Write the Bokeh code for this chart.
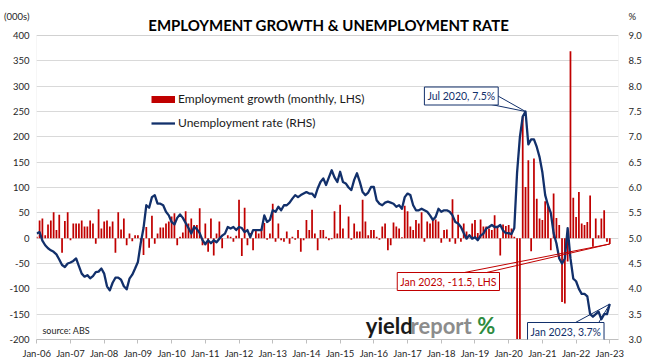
from bokeh.plotting import figure
from bokeh.models import (Range1d, LinearAxis, FixedTicker, Label, Legend,
                          LegendItem, ColumnDataSource, BoxAnnotation)
from bokeh.embed import file_html
from bokeh.resources import INLINE

# ---------------- data ----------------
month_names = ["Jan", "Feb", "Mar", "Apr", "May", "Jun",
               "Jul", "Aug", "Sep", "Oct", "Nov", "Dec"]
periods = [f"{m} {y}" for y in range(2006, 2024) for m in month_names][:205]

# monthly employment change, (000s), LHS
emp_growth = [
    3, 35, 39, 6, 27, 35, 51, 16, 46, -29, 34, 51,            # 2006
    -4, 29, 29, 29, 35, 23, 23, 35, 29, -11, 57, 19,          # 2007
    33, 35, 23, 33, -29, 51, 17, 39, -14, 9, -6, 6,           # 2008
    6, -4, -33, 22, -19, 44, -11, 9, 21, 21, 29, 33,          # 2009
    43, 49, -14, 3, 11, 53, 29, 39, 26, 26, 59, -14,          # 2010
    29, -27, 39, -34, 9, 33, -20, 0, 6, 3, -7, 5,             # 2011
    76, -35, 60, -14, 10, -24, 16, 9, 19, 30, -3, 9,          # 2012
    68, -7, 29, -4, -7, 13, -11, 3, -3, 16, -27, -4,          # 2013
    36, 16, 56, 9, -24, 16, 16, 3, -4, -2, 53, 9,             # 2014
    66, 19, 0, 43, -3, 29, 13, 13, 76, 33, 6, 16,             # 2015
    16, 3, -3, 23, 29, -24, -14, 31, 23, 19, 2, 64,           # 2016
    53, 23, 16, 36, 29, 51, -7, 33, 29, 39, 37, 33,           # 2017
    -9, 16, 17, -7, 77, -11, 46, -7, 29, 13, 1, 29,           # 2018
    36, 10, 37, 23, 23, 19, 16, 45, 22, -34, 27, 24,          # 2019
    26, 19, 3, -600, -230, 240, 101, 154, -26, 157, 78, 39,   # 2020
    36, 73, 68, -24, 88, 40, 26, -126, -129, -46, 369, 80,    # 2021
    42, 91, 29, 26, 32, 84, -17, 39, 6, 39, 55, -7,           # 2022
    -11.5,                                                    # 2023
]

# unemployment rate, %, RHS
unemp_rate = [
    5.09, 5.12, 4.95, 4.86, 4.80, 4.76, 4.73, 4.68, 4.58, 4.47, 4.43, 4.50,
    4.52, 4.55, 4.60, 4.45, 4.30, 4.24, 4.27, 4.21, 4.25, 4.33, 4.34, 4.40,
    4.30, 4.05, 3.97, 4.12, 4.22, 4.22, 4.18, 4.05, 3.99, 4.20, 4.28, 4.40,
    4.53, 4.90, 5.20, 5.65, 5.60, 5.81, 5.85, 5.68, 5.68, 5.65, 5.52, 5.45,
    5.32, 5.27, 5.40, 5.47, 5.40, 5.30, 5.20, 5.09, 5.22, 5.18, 5.10, 4.96,
    4.88, 4.96, 4.90, 4.96, 4.92, 4.99, 5.05, 5.09, 5.22, 5.19, 5.22, 5.16,
    5.22, 5.20, 5.12, 5.16, 5.02, 5.16, 5.16, 5.16, 5.16, 5.45, 5.32, 5.36,
    5.55, 5.52, 5.62, 5.55, 5.65, 5.65, 5.70, 5.78, 5.85, 5.81, 5.85, 5.88,
    5.91, 5.88, 5.88, 5.81, 5.98, 6.11, 6.18, 6.05, 6.20, 6.34, 6.20, 6.11,
    6.31, 6.11, 6.08, 6.00, 5.95, 6.15, 6.28, 6.11, 5.91, 5.85, 5.90, 6.01,
    6.01, 5.75, 5.68, 5.65, 5.70, 5.72, 5.70, 5.68, 5.62, 5.65, 5.58, 5.81,
    5.88, 5.85, 5.65, 5.55, 5.55, 5.58, 5.55, 5.52, 5.45, 5.36, 5.42, 5.58,
    5.52, 5.55, 5.55, 5.52, 5.45, 5.32, 5.29, 5.22, 5.10, 4.99, 5.06, 4.99,
    5.02, 4.96, 5.05, 5.09, 5.19, 5.22, 5.26, 5.22, 5.22, 5.26, 5.15, 5.10,
    5.10, 5.08, 5.20, 6.30, 7.00, 7.40, 7.50, 6.85, 6.95, 6.95, 6.80, 6.60,
    6.30, 5.85, 5.65, 5.50, 5.10, 4.90, 4.60, 4.50, 4.60, 5.20, 4.60, 4.20,
    4.15, 4.00, 3.90, 3.90, 3.85, 3.50, 3.45, 3.50, 3.55, 3.40, 3.50, 3.50,
    3.70,
]

left_ticks = [400, 350, 300, 250, 200, 150, 100, 50, 0, -50, -100, -150, -200]
left_tick_labels = ["400", "350", "300", "250", "200", "150", "100", "50",
                    "0", "-50", "-100", "-150", "-200"]
right_ticks = [9.0, 8.5, 8.0, 7.5, 7.0, 6.5, 6.0, 5.5, 5.0, 4.5, 4.0, 3.5, 3.0]
right_tick_labels = ["9.0", "8.5", "8.0", "7.5", "7.0", "6.5", "6.0", "5.5",
                     "5.0", "4.5", "4.0", "3.5", "3.0"]
x_tick_labels = ["Jan-06", "Jan-07", "Jan-08", "Jan-09", "Jan-10", "Jan-11",
                 "Jan-12", "Jan-13", "Jan-14", "Jan-15", "Jan-16", "Jan-17",
                 "Jan-18", "Jan-19", "Jan-20", "Jan-21", "Jan-22", "Jan-23"]
left_unit_label = "(000s)"
right_unit_label = "%"

# ---------------- styling ----------------
RED = "#C00000"
NAVY = "#12306B"
GRID = "#D9D9D9"
BORDER = "#BFBFBF"
TXT = "#262626"
FONT = "Lato"

W, H = 662, 363
FL, FR, FT, FB = 33, 618, 5, 339          # plot frame in page pixels
X0, X1 = -0.1, 207.1                      # months
PLOT_BOTTOM, PLOT_TOP = -200, 400         # visible value-axis box
PX_PER_UNIT = 304 / 600
Y0 = PLOT_BOTTOM
Y1 = PLOT_BOTTOM + (FB - FT) / PX_PER_UNIT  # frame extended upward for headers
R0 = 3.0
R1 = R0 + (Y1 - Y0) / 100.0

idx = list(range(len(periods)))
src = ColumnDataSource(dict(x=idx, period=periods, emp=emp_growth, rate=unemp_rate))

p = figure(width=W, height=H, output_backend="svg", toolbar_location=None,
           x_range=Range1d(X0, X1), y_range=Range1d(Y0, Y1),
           min_border_left=FL, min_border_right=W - FR, min_border_top=FT,
           min_border_bottom=H - FB, background_fill_color="white",
           border_fill_color="white")
p.extra_y_ranges = {"rate": Range1d(R0, R1)}
p.outline_line_color = None

# plot-area border
p.add_layout(BoxAnnotation(left=X0, right=X1, bottom=PLOT_BOTTOM, top=PLOT_TOP,
                           fill_alpha=0, line_color=BORDER, line_width=1,
                           level="underlay"))

bars = p.vbar(x="x", top="emp", bottom=0, width=0.62, fill_color=RED,
              line_color=None, source=src)
line = p.line(x="x", y="rate", y_range_name="rate", line_color=NAVY,
              line_width=2.3, line_join="round", source=src)

# ---------------- axes ----------------
x_ticks = [periods.index("Jan " + str(2000 + int(l[-2:]))) for l in x_tick_labels]
xa = p.xaxis[0]
xa.ticker = FixedTicker(ticks=x_ticks)
xa.major_label_overrides = dict(zip(x_ticks, x_tick_labels))
xa.axis_line_color = BORDER
xa.major_tick_line_color = BORDER
xa.major_tick_out = 4
xa.major_tick_in = 0
xa.minor_tick_line_color = None
xa.major_label_standoff = 4
xa.major_label_text_font = FONT
xa.major_label_text_font_size = "9.5px"
xa.major_label_text_color = TXT


def to_page_y(v):
    return FB - (v - Y0) * PX_PER_UNIT


def from_page_y(py):
    return Y0 + (FB - py) / PX_PER_UNIT


# unit headers sit as extra tick labels at the header row (page y = 16)
head_left = round(from_page_y(16))
head_right = round(R0 + (from_page_y(16) - Y0) / 100.0, 2)

ya = p.yaxis[0]
ya.ticker = FixedTicker(ticks=left_ticks + [head_left])
ya.major_label_overrides = {**dict(zip(left_ticks, left_tick_labels)),
                            head_left: left_unit_label}
ya.axis_line_color = None
ya.major_tick_line_color = None
ya.major_tick_out = 0
ya.major_tick_in = 0
ya.minor_tick_line_color = None
ya.major_label_standoff = 7
ya.major_label_text_font = FONT
ya.major_label_text_font_size = "9.5px"
ya.major_label_text_color = TXT

ra = LinearAxis(y_range_name="rate",
                ticker=FixedTicker(ticks=right_ticks + [head_right]),
                major_label_overrides={**dict(zip(right_ticks, right_tick_labels)),
                                       head_right: right_unit_label})
ra.axis_line_color = None
ra.major_tick_line_color = None
ra.major_tick_out = 0
ra.major_tick_in = 0
ra.minor_tick_line_color = None
ra.major_label_standoff = 10
ra.major_label_text_font = FONT
ra.major_label_text_font_size = "9.5px"
ra.major_label_text_color = TXT
p.add_layout(ra, "right")

p.xgrid.visible = False
p.ygrid.ticker = FixedTicker(ticks=left_ticks)
p.ygrid.grid_line_color = GRID
p.ygrid.grid_line_width = 1


# ---------------- texts ----------------
def dxy(px, py):
    return X0 + (px - FL) / (FR - FL) * (X1 - X0), from_page_y(py)


def rate_to_left(r):
    return Y0 + (r - R0) * 100.0


def text(px, py, s, size, color=TXT, align="center", baseline="middle",
         style="normal", **kw):
    x, y = dxy(px, py)
    lab = Label(x=x, y=y, text=s, text_font=FONT, text_font_size=size,
                text_color=color, text_align=align, text_baseline=baseline,
                text_font_style=style, **kw)
    p.add_layout(lab)
    return lab


text(327, 24, "EMPLOYMENT GROWTH & UNEMPLOYMENT RATE", "15px", color="#000000",
     style="bold")
text(39, 330, "source: ABS", "9px", align="left")

# logo
text(364, 325, "yield", "22px", color="#1A1A1A", align="left", style="bold")
text(409, 325, "report", "22px", color="#8C8C8C", align="left", style="bold")
text(476, 325, "%", "22px", color="#2E8B3E", align="left", style="bold")

# legend
proxy = p.line(x=[float("nan")], y=[float("nan")], line_color=RED, line_width=7)
legend = Legend(items=[
    LegendItem(label="Employment growth (monthly, LHS)", renderers=[proxy]),
    LegendItem(label="Unemployment rate (RHS)", renderers=[line]),
], location=(115, 209), orientation="vertical")
legend.label_text_font = FONT
legend.label_text_font_size = "12px"
legend.label_text_color = "#1A1A1A"
legend.glyph_width = 24
legend.glyph_height = 14
legend.label_height = 14
legend.label_standoff = 3
legend.spacing = 9
legend.padding = 0
legend.margin = 0
legend.border_line_color = None
legend.background_fill_alpha = 0
p.add_layout(legend)

# callouts
i_peak = periods.index("Jul 2020")
i_last = len(periods) - 1
tip_peak = (i_peak, rate_to_left(unemp_rate[i_peak]))
tip_emp = (i_last, emp_growth[i_last])
tip_rate = (i_last, rate_to_left(unemp_rate[i_last]))

callouts = [
    (dxy(496, 95), dxy(490, 104), tip_peak, NAVY),
    (dxy(458, 273), dxy(481, 273), tip_emp, RED),
    (dxy(571, 324), dxy(597, 324), tip_rate, NAVY),
]
for a, b, tip, col in callouts:
    p.segment(x0=[a[0], b[0]], y0=[a[1], b[1]], x1=[tip[0], tip[0]],
              y1=[tip[1], tip[1]], line_color=col, line_width=1)

box_kw = dict(background_fill_color="white", border_line_width=1, padding=3)
text(460, 95.5, f"{periods[i_peak]}, {unemp_rate[i_peak]:.1f}%", "10.5px",
     color=NAVY, border_line_color=NAVY, **box_kw)
text(447, 281, f"{periods[i_last]}, {emp_growth[i_last]}, LHS", "10.5px",
     color=RED, border_line_color=RED, **box_kw)
text(565, 331, f"{periods[i_last]}, {unemp_rate[i_last]:.1f}%", "10.5px",
     color=NAVY, border_line_color=NAVY, **box_kw)

open("out.html", "w").write(file_html(p, INLINE))
